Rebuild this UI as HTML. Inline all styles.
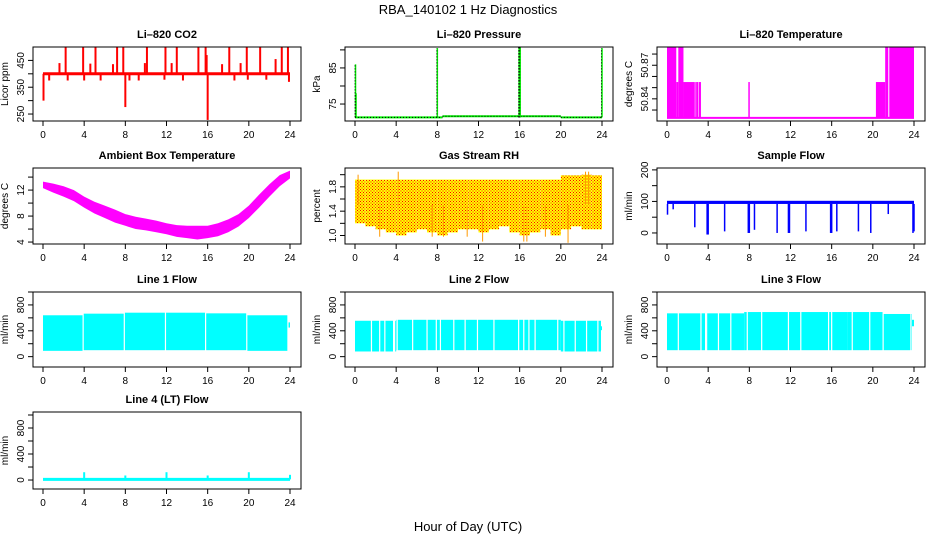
<!DOCTYPE html>
<html><head><meta charset="utf-8">
<style>
html,body{margin:0;padding:0;background:#fff;}
svg{display:block;font-family:"Liberation Sans",Arial,sans-serif;}
</style></head>
<body>
<svg id="chart" width="936" height="540" viewBox="0 0 936 540" xmlns="http://www.w3.org/2000/svg">
<defs>
<pattern id="rhpat" width="3" height="3" patternUnits="userSpaceOnUse">
<rect width="3" height="3" fill="#ffff00"/>
<rect x="0" y="0" width="1" height="1" fill="#ff0000"/>
<rect x="1.5" y="1.5" width="1" height="1" fill="#ff0000"/>
</pattern>
</defs>
<text x="468" y="14" text-anchor="middle" font-size="13">RBA_140102  1 Hz Diagnostics</text>
<text x="468" y="531" text-anchor="middle" font-size="13">Hour of Day (UTC)</text>
</svg>
<script>
// ---- data ----
const hourTicks = [0,4,8,12,16,20,24];
// CO2
const co2Base = 400;
const co2SpikeT = [2.2,3.9,5.1,7.2,7.8,10.1,11.9,13.0,15.1,15.8,18.1,19.8,21.1,23.2,23.8,1.6,4.6,6.8,9.9,12.5,17.4,22.6,19.2,0.05,8.0,16.0,23.9,0.6,2.4,4.0,5.6,8.4,9.3,11.8,13.6,18.6,19.9,21.7,15.9];
const co2SpikeV = [500,500,500,500,500,500,500,500,500,500,500,500,500,500,500,440,438,436,440,440,436,455,440,300,276,228,370,375,375,375,375,375,375,378,375,375,378,378,470];
// Pressure
const presStepT = [0,8.5,20,24];
const presStepV = [71.3,71.6,71.3];
const presSpikeT = [0.05,0.1,8.0,16.0,15.95,16.05,24.0];
const presSpikeV = [86,78,90.5,90.8,90.8,90.8,90.5];
// Li-820 temperature
const ltBase = 50.823;
const ltStart = [0.0,0.9,1.1,1.6,2.75,2.9,3.1,7.9,20.3,21.2,21.6];
const ltEnd   = [0.9,1.1,1.6,2.7,2.85,3.0,3.3,8.0,21.2,21.5,24.0];
const ltHigh  = [50.886,50.855,50.886,50.855,50.855,50.855,50.855,50.855,50.855,50.886,50.886];
// Ambient box temperature
const ambT  = [0,1,2,3,4,5,6,7,8,9,10,11,12,13,14,15,16,17,18,19,20,21,22,23,24];
const ambHi = [13.3,13.0,12.6,12.0,11.0,10.2,9.6,9.0,8.3,7.9,7.6,7.3,6.9,6.6,6.5,6.5,6.5,6.9,7.5,8.3,9.6,11.3,12.9,14.3,15.0];
const ambLo = [12.3,11.6,11.0,10.3,9.3,8.4,7.7,7.0,6.5,6.0,5.8,5.5,5.2,4.8,4.6,4.4,4.6,4.9,5.5,6.4,7.7,9.3,11.0,12.6,13.8];
// Gas stream RH
const rhT  = [0,1,2,3,4,5,6,7,8,9,10,11,12,13,14,15,16,17,18,19,20,21,22,23,24];
const rhHi = [1.92,1.92,1.92,1.92,1.92,1.92,1.92,1.92,1.92,1.92,1.92,1.92,1.92,1.92,1.92,1.92,1.92,1.92,1.92,1.92,1.99,1.99,2.0,1.99,1.99];
const rhLo = [1.2,1.15,1.1,1.05,1.0,1.05,1.1,1.05,1.0,1.05,1.1,1.1,1.05,1.1,1.15,1.05,1.0,1.05,1.1,1.0,1.1,1.15,1.1,1.1,1.1];
const rhSpikeT = [4.2,12.4,16.4,16.7,20.7,22.4,22.7,0.3,2.4,7.5,8.6,10.9,18.5];
const rhSpikeV = [2.05,0.9,0.9,0.9,0.88,2.05,2.05,2.0,0.98,0.98,0.98,0.98,0.98];
// Sample flow
const sfBaseHi = 102, sfBaseLo = 92;
const sfDipT = [0.05,0.6,2.7,3.9,4.0,5.6,7.9,8.0,8.5,10.7,11.8,11.9,13.5,15.9,16.0,16.5,18.6,19.8,21.5,23.9,24.0];
const sfDipV = [58,75,18,-5,-5,5,0,0,10,0,0,0,5,0,0,5,5,0,60,0,5];
// Line 1 flow
const l1T  = [0,3.9,7.9,15.8,19.8,23.8,24.0];
const l1Hi = [640,665,680,670,640,530];
const l1Lo = [90,100,100,100,90,450];
const l1Gap = [3.9,7.9,11.9,15.8,19.8,23.8];
// Line 2 flow
const l2T  = [0,4,20,23.9,24.0];
const l2Hi = [555,570,555,470];
const l2Lo = [80,100,80,410];
const l2Gap = [1.6,2.4,2.9,3.75,3.85,4.1,5.6,7.0,7.9,8.3,9.6,10.7,11.9,13.5,15.9,16.4,16.9,17.5,19.7,20.3,21.4,22.5,23.6];
// Line 3 flow
const l3T  = [0,7.5,17.5,21,23.8,24.0];
const l3Hi = [670,690,690,660,570];
const l3Lo = [100,100,100,100,470];
const l3Gap = [1.1,3.3,3.75,3.85,5.0,6.2,7.8,9.2,11.8,13.0,15.7,16.0,18.0,19.7,21.0,23.7];
// Line 4 flow
const l4Base = 10;
const l4SpikeT = [4,8,12,16,20,24];
const l4SpikeV = [120,70,120,70,120,80];

// ---- layout ----
const NS = "http://www.w3.org/2000/svg";
const svg = document.getElementById('chart');
const rowTop = [47,168,292,412], rowBot = [121,244,367,489];
function mk(tag, attrs, parent){
  const e = document.createElementNS(NS, tag);
  for (const k in attrs) e.setAttribute(k, attrs[k]);
  (parent||svg).appendChild(e);
  return e;
}
function P(col,row,dom){
  const left = 33+312*col, right = 301+312*col;
  return {col,row,left,right,top:rowTop[row],bot:rowBot[row],dom,
    x: t => left+10 + t/24*247,
    y: v => rowBot[row] - (v-dom[0])/(dom[1]-dom[0])*(rowBot[row]-rowTop[row])};
}
function frame(p, name, title, ylab, ticks, labels){
  const g = mk('g', {});
  
  
  const cx = (p.left+p.right)/2;
  const tt = mk('text', {x:cx, y:p.top-9, 'text-anchor':'middle', 'font-size':11, 'font-weight':'bold'}, g);
  tt.textContent = title;
  
  
  const yl = mk('text', {x:0, y:0, 'text-anchor':'middle', 'font-size':10,
    transform:`translate(${p.left-25},${(p.top+p.bot)/2}) rotate(-90)`}, g);
  yl.textContent = ylab;
  
  
  // x axis
  const xa = mk('g', {}, g);
  
  
  mk('line', {x1:p.x(0), x2:p.x(24), y1:p.bot, y2:p.bot, stroke:'#000'}, xa);
  hourTicks.forEach(h=>{
    mk('line', {x1:p.x(h), x2:p.x(h), y1:p.bot, y2:p.bot+5, stroke:'#000'}, xa);
    const t = mk('text', {x:p.x(h), y:p.bot+17, 'text-anchor':'middle', 'font-size':10}, xa);
    t.textContent = h;
  });
  // y axis
  const ya = mk('g', {}, g);
  
  
  mk('line', {x1:p.left, x2:p.left, y1:p.y(ticks[0]), y2:p.y(ticks[ticks.length-1]), stroke:'#000'}, ya);
  ticks.forEach((v,i)=>{
    mk('line', {x1:p.left-5, x2:p.left, y1:p.y(v), y2:p.y(v), stroke:'#000'}, ya);
    if (labels[i] !== '') {
      const t = mk('text', {x:0, y:0, 'text-anchor':'middle', 'font-size':10,
        transform:`translate(${p.left-9},${p.y(v)}) rotate(-90)`}, ya);
      t.textContent = labels[i];
    }
  });
  return g;
}
function box(p, g){
  mk('rect', {x:p.left, y:p.top, width:p.right-p.left, height:p.bot-p.top, fill:'none', stroke:'#000'}, g);
}
function plotArea(p, g, name){
  const s = mk('g', {}, g);
  
  
  return s;
}
function clampY(p, v){ return Math.max(p.top, Math.min(p.bot, p.y(v))); }
function vline(p, s, t, v0, v1, color, w){
  mk('line', {x1:p.x(t), x2:p.x(t), y1:clampY(p,v0), y2:clampY(p,v1), stroke:color, 'stroke-width':w}, s);
}
function band(p, s, T, hi, lo, fill){
  for (let i=0;i<hi.length;i++){
    const y1 = clampY(p,hi[i]), y2 = clampY(p,lo[i]);
    mk('rect', {x:p.x(T[i]), y:y1, width:Math.max(1,p.x(T[i+1])-p.x(T[i])), height:y2-y1, fill}, s);
  }
}

// CO2
{ const p = P(0,0,[224,500]);
  const g = frame(p,'co2','Li\u2013820 CO2','Licor ppm',[250,300,350,400,450],['250','','350','','450']);
  const s = plotArea(p,g,'co2-series');
  mk('line',{x1:p.x(0),x2:p.x(24),y1:p.y(co2Base),y2:p.y(co2Base),stroke:'#ff0000','stroke-width':3},s);
  co2SpikeT.forEach((t,i)=>vline(p,s,t,co2Base,co2SpikeV[i],'#ff0000',2));
  box(p,g); }
// Pressure
{ const p = P(1,0,[70.3,90.8]);
  const g = frame(p,'pressure','Li\u2013820 Pressure','kPa',[75,80,85,90],['75','','85','']);
  const s = plotArea(p,g,'pressure-series');
  presStepV.forEach((v,i)=>mk('line',{x1:p.x(presStepT[i]),x2:p.x(presStepT[i+1]),y1:p.y(v),y2:p.y(v),stroke:'#00ee00','stroke-width':2},s));
  presStepV.forEach((v,i)=>mk('line',{x1:p.x(presStepT[i]),x2:p.x(presStepT[i+1]),y1:p.y(v),y2:p.y(v),stroke:'#000','stroke-width':1,'stroke-dasharray':'1,2'},s));
  presSpikeT.forEach((t,i)=>{vline(p,s,t,71.3,presSpikeV[i],'#00ee00',1.5);});
  presSpikeT.forEach((t,i)=>{mk('line',{x1:p.x(t)-0.5,x2:p.x(t)-0.5,y1:p.y(71.3),y2:clampY(p,presSpikeV[i]),stroke:'#000','stroke-width':1,'stroke-dasharray':'1,2'},s);});
  box(p,g); }
// Li-820 temperature
{ const p = P(2,0,[50.8202,50.8863]);
  const g = frame(p,'li820-temp','Li\u2013820 Temperature','degrees C',[50.83,50.84,50.85,50.86,50.87,50.88],['','50.84','','','50.87','']);
  const s = plotArea(p,g,'li820-temp-series');
  mk('line',{x1:p.x(0),x2:p.x(24),y1:p.y(ltBase),y2:p.y(ltBase),stroke:'#ff00ff','stroke-width':2},s);
  ltStart.forEach((t,i)=>{
    const y1=clampY(p,ltHigh[i]), y2=p.y(ltBase);
    mk('rect',{x:p.x(t),y:y1,width:Math.max(1.5,p.x(ltEnd[i])-p.x(t)),height:y2-y1,fill:'#ff00ff'},s);
  });
  box(p,g); }
// Ambient
{ const p = P(0,1,[3.7,15.4]);
  const g = frame(p,'ambient-temp','Ambient Box Temperature','degrees C',[4,6,8,10,12,14],['4','','8','','12','']);
  const s = plotArea(p,g,'ambient-temp-series');
  const pts = ambT.map((t,i)=>p.x(t)+','+p.y(ambHi[i])).concat(ambT.slice().reverse().map((t,j)=>{const i=ambT.length-1-j;return p.x(t)+','+p.y(ambLo[i]);}));
  mk('polygon',{points:pts.join(' '),fill:'#ff00ff'},s);
  box(p,g); }
// RH
{ const p = P(1,1,[0.86,2.11]);
  const g = frame(p,'gas-rh','Gas Stream RH','percent',[1.0,1.2,1.4,1.6,1.8,2.0],['1.0','','1.4','','1.8','']);
  const s = plotArea(p,g,'gas-rh-series');
  band(p,s,rhT,rhHi.slice(0,-1),rhLo.slice(0,-1),'url(#rhpat)');
  rhSpikeT.forEach((t,i)=>vline(p,s,t,1.5,rhSpikeV[i],'#ff9900',1));
  box(p,g); }
// Sample flow
{ const p = P(2,1,[-35,206]);
  const g = frame(p,'sample-flow','Sample Flow','ml/min',[0,50,100,150,200],['0','','100','','200']);
  const s = plotArea(p,g,'sample-flow-series');
  mk('rect',{x:p.x(0),y:p.y(sfBaseHi),width:p.x(24)-p.x(0),height:p.y(sfBaseLo)-p.y(sfBaseHi),fill:'#0000ff'},s);
  sfDipT.forEach((t,i)=>vline(p,s,t,sfBaseLo,sfDipV[i],'#0000ff',1.5));
  box(p,g); }
// Line flows
const flowTicks=[0,200,400,600,800,1000], flowLabels=['0','','400','','800',''];
function flowPanel(col,row,name,title,T,hi,lo,gaps){
  const p = P(col,row,row===3?[-138,1046]:[-160,1000]);
  const g = frame(p,name,title,'ml/min',flowTicks,flowLabels);
  const s = plotArea(p,g,name+'-series');
  if (T) band(p,s,T,hi,lo,'#00ffff');
  if (gaps) gaps.forEach(t=>mk('line',{x1:p.x(t),x2:p.x(t),y1:p.top+1,y2:p.bot-1,stroke:'#fff','stroke-width':1.2},s));
  box(p,g);
  return {p,s};
}
flowPanel(0,2,'line1-flow','Line 1 Flow',l1T,l1Hi,l1Lo,l1Gap);
flowPanel(1,2,'line2-flow','Line 2 Flow',l2T,l2Hi,l2Lo,l2Gap);
flowPanel(2,2,'line3-flow','Line 3 Flow',l3T,l3Hi,l3Lo,l3Gap);
{ const r = flowPanel(0,3,'line4-flow','Line 4 (LT) Flow',null,null,null,null);
  const p=r.p, s=r.s;
  mk('line',{x1:p.x(0),x2:p.x(24),y1:p.y(l4Base),y2:p.y(l4Base),stroke:'#00ffff','stroke-width':3},s);
  l4SpikeT.forEach((t,i)=>vline(p,s,t,l4Base,l4SpikeV[i],'#00ffff',2));
}
</script>
</body></html>
